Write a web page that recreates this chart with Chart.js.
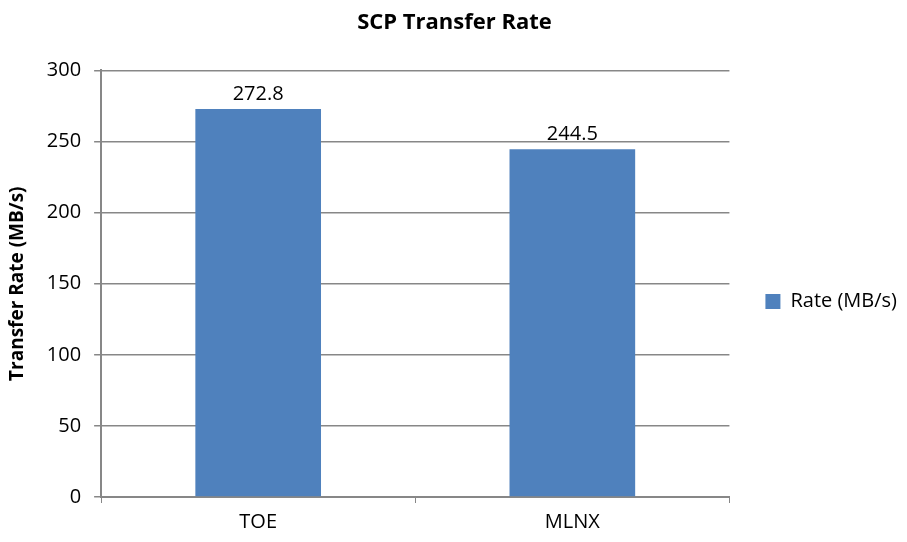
<!DOCTYPE html>
<html>
<head>
<meta charset="utf-8">
<script src="https://cdn.jsdelivr.net/npm/chart.js@4"></script>
<style>
  body { margin: 0; background: #fff; }
</style>
</head>
<body>
<canvas id="myChart" width="907" height="542"></canvas>
<script>
// data
var categories = ['TOE', 'MLNX'];
var rates = [272.8, 244.5];
var seriesName = 'Rate (MB/s)';

var FONT = "'Open Sans', 'Liberation Sans', sans-serif";
var barBlue = '#4F81BD';
var gridGray = '#878787';

// writes the value above each bar
var valueLabels = {
  id: 'valueLabels',
  afterDatasetsDraw: function (chart) {
    var ctx = chart.ctx;
    var meta = chart.getDatasetMeta(0);
    ctx.save();
    ctx.font = '20px ' + FONT;
    ctx.fillStyle = '#000';
    ctx.textAlign = 'center';
    ctx.textBaseline = 'bottom';
    meta.data.forEach(function (bar, i) {
      ctx.fillText(rates[i].toFixed(1), bar.x, bar.y - 5);
    });
    ctx.restore();
  }
};

var ctx = document.getElementById('myChart').getContext('2d');
var chart = new Chart(ctx, {
  type: 'bar',
  data: {
    labels: categories,
    datasets: [{
      label: seriesName,
      data: rates,
      backgroundColor: barBlue,
      borderWidth: 0,
      categoryPercentage: 0.8,
      barPercentage: 0.5
    }]
  },
  options: {
    responsive: false,
    animation: false,
    layout: { padding: { top: 2, right: 0, bottom: 1, left: 2 } },
    plugins: {
      title: {
        display: true,
        text: 'SCP Transfer Rate',
        color: '#000',
        font: { family: FONT, size: 22, weight: 'bold' },
        padding: { top: 8, bottom: 34 }
      },
      legend: {
        position: 'right',
        // empty legend title only pushes the entry down a little
        title: { display: true, text: ' ', font: { size: 10 }, padding: { top: 24, bottom: 24 } },
        labels: {
          color: '#000',
          font: { family: FONT, size: 20 },
          boxWidth: 15,
          boxHeight: 15,
          padding: 36
        }
      },
      tooltip: { enabled: false }
    },
    scales: {
      x: {
        grid: {
          offset: true,
          drawOnChartArea: false,
          color: gridGray,
          tickLength: 6
        },
        border: { color: gridGray, width: 2 },
        ticks: { color: '#000', font: { family: FONT, size: 20 }, padding: 7 }
      },
      y: {
        min: 0,
        max: 300,
        ticks: { stepSize: 50, color: '#000', font: { family: FONT, size: 20 }, padding: 13 },
        grid: { color: gridGray, lineWidth: 1.5, tickLength: 7 },
        border: { color: gridGray, width: 2 },
        title: {
          display: true,
          text: 'Transfer Rate (MB/s)',
          color: '#000',
          font: { family: FONT, size: 19, weight: 'bold' },
          padding: { bottom: 5 }
        }
      }
    }
  },
  plugins: [valueLabels]
});
</script>
</body>
</html>
